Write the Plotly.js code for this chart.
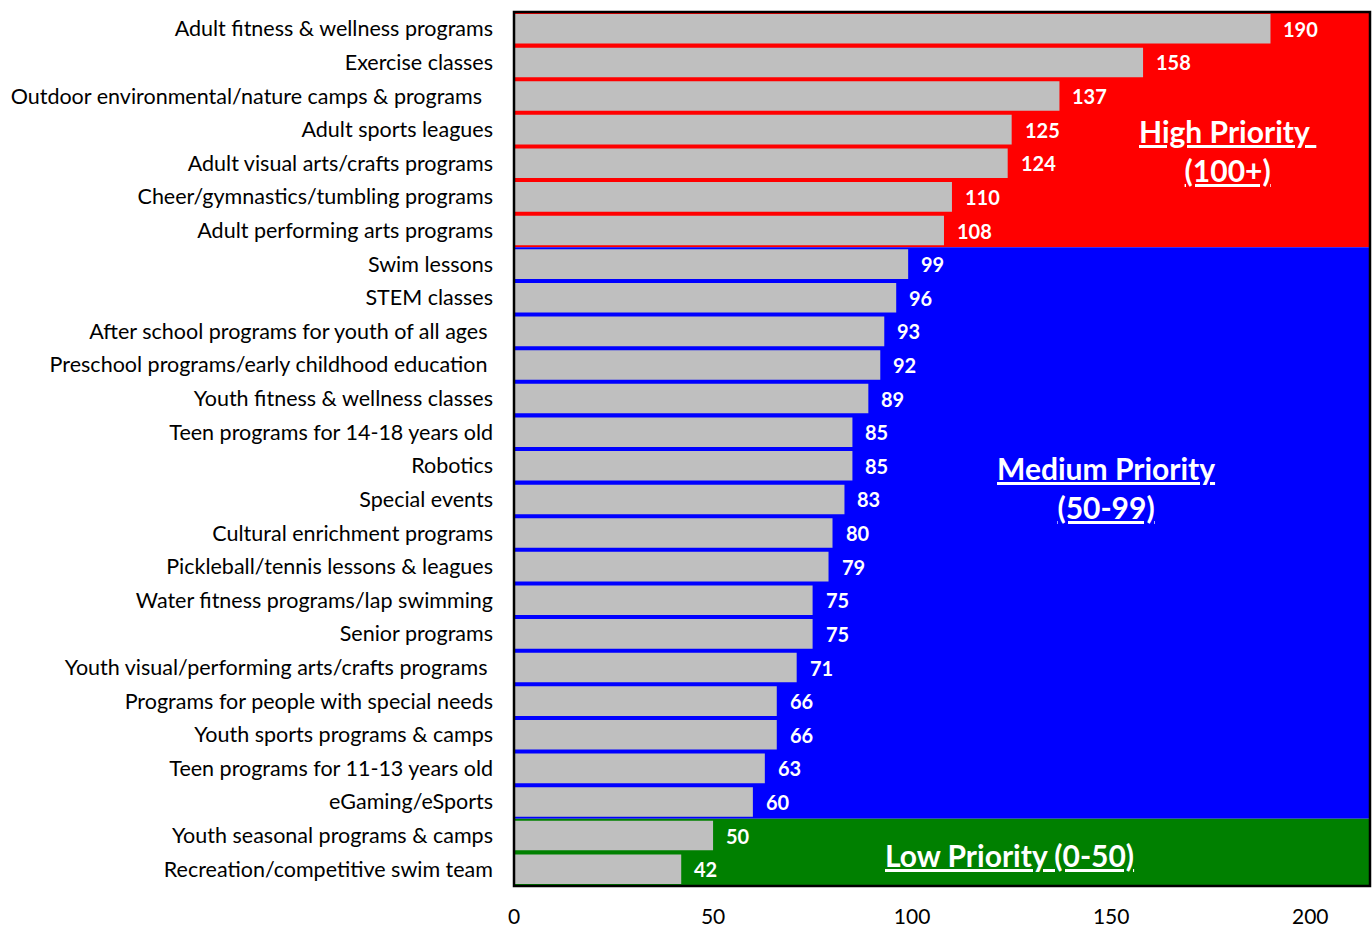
<!DOCTYPE html>
<html>
<head>
<meta charset="utf-8">
<script src="https://cdn.plot.ly/plotly-3.0.1.min.js"></script>
<style>html,body{margin:0;padding:0;background:#fff;}#chart{width:1372px;height:928px;}</style>
</head>
<body>
<div id="chart"></div>
<script>
const categories = [
  "Adult fitness & wellness programs",
  "Exercise classes",
  "Outdoor environmental/nature camps & programs\u00a0\u00a0",
  "Adult sports leagues",
  "Adult visual arts/crafts programs",
  "Cheer/gymnastics/tumbling programs",
  "Adult performing arts programs",
  "Swim lessons",
  "STEM classes",
  "After school programs for youth of all ages\u00a0",
  "Preschool programs/early childhood education\u00a0",
  "Youth fitness & wellness classes",
  "Teen programs for 14-18 years old",
  "Robotics",
  "Special events",
  "Cultural enrichment programs",
  "Pickleball/tennis lessons & leagues",
  "Water fitness programs/lap swimming",
  "Senior programs",
  "Youth visual/performing arts/crafts programs\u00a0",
  "Programs for people with special needs",
  "Youth sports programs & camps",
  "Teen programs for 11-13 years old",
  "eGaming/eSports",
  "Youth seasonal programs & camps",
  "Recreation/competitive swim team"
];
const values = [190,158,137,125,124,110,108,99,96,93,92,89,85,85,83,80,79,75,75,71,66,66,63,60,50,42];
const xTicks = [0,50,100,150,200];
const zones = [
  {label: "High Priority <br>(100+)", from: 0, to: 6, color: "#FF0000", ax: 0.834, ay: 0.841},
  {label: "Medium Priority<br>(50-99)", from: 7, to: 23, color: "#0000FF", ax: 0.692, ay: 0.4565},
  {label: "Low Priority (0-50)", from: 24, to: 25, color: "#008000", ax: 0.579, ay: 0.035}
];

const FONT = "Lato, 'Open Sans', sans-serif";

const shapes = zones.map(z => ({
  type: "rect", layer: "below", xref: "paper", yref: "y",
  x0: 0, x1: 1, y0: z.from - 0.5, y1: z.to + 0.5,
  fillcolor: z.color, line: {width: 0}
}));
shapes.push({type: "rect", layer: "above", xref: "paper", yref: "paper", x0: 0, x1: 1, y0: 0, y1: 1,
  line: {color: "#000", width: 2.5}, fillcolor: "rgba(0,0,0,0)"});

const annotations = values.map((v, i) => ({
  x: v, y: categories[i], xref: "x", yref: "y", text: "<b>" + v + "</b>",
  showarrow: false, xanchor: "left", xshift: 11, yshift: 0,
  font: {family: FONT, size: 20, color: "#fff"}
}));
zones.forEach(z => annotations.push({
  x: z.ax, y: z.ay, xref: "paper", yref: "paper", text: "<b>" + z.label + "</b>",
  showarrow: false, xanchor: "center", yanchor: "middle", align: "center",
  font: {family: FONT, size: 30, color: "#fff", lineposition: "under"}
}));

const trace = {
  type: "bar", orientation: "h", x: values, y: categories,
  marker: {color: "#BFBFBF", line: {width: 0}},
  hoverinfo: "skip"
};

const layout = {
  width: 1372, height: 928,
  margin: {l: 514, r: 2, t: 12, b: 42},
  paper_bgcolor: "#fff", plot_bgcolor: "#fff",
  bargap: 0.12,
  showlegend: false,
  font: {family: FONT, color: "#000"},
  xaxis: {range: [0, 215], tickvals: xTicks, ticktext: xTicks.map(String),
    showgrid: false, zeroline: false, showline: false, ticks: "",
    tickfont: {size: 21, color: "#000"}, ticklabelstandoff: 16, fixedrange: true},
  yaxis: {type: "category", autorange: "reversed", showgrid: false, zeroline: false,
    showline: false, ticks: "", tickfont: {size: 21.5, color: "#000"}, ticklabelstandoff: 20,
    fixedrange: true},
  shapes: shapes,
  annotations: annotations
};

Plotly.newPlot("chart", [trace], layout, {displayModeBar: false, staticPlot: true});
</script>
</body>
</html>
